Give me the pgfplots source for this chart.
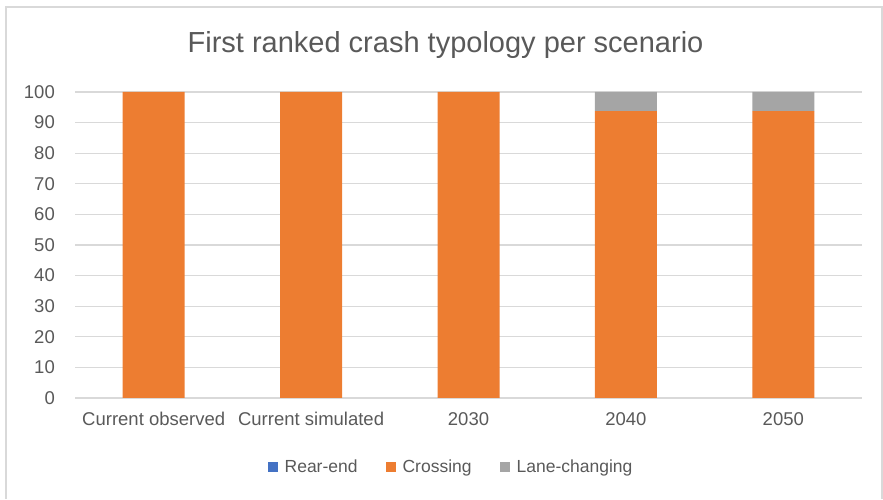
\documentclass[border=0pt]{standalone}
\usepackage{fontspec}
\setmainfont{Liberation Sans}
\usepackage{pgfplots}
\pgfplotsset{compat=1.18}
\definecolor{txt}{HTML}{595959}
\definecolor{gridc}{HTML}{D9D9D9}
\definecolor{framec}{HTML}{D9D9D9}
\definecolor{rear}{HTML}{4472C4}
\definecolor{cross}{HTML}{ED7D31}
\definecolor{lane}{HTML}{A5A5A5}
\begin{document}
\begin{tikzpicture}[x=1bp,y=1bp]
\path (0,0) rectangle (883,499);
\draw[color=framec, line width=1.5bp] (6,0) -- (6,492) -- (882,492) -- (882,0);
\node[text=txt, font=\fontsize{29bp}{32bp}\selectfont, inner sep=0pt] at (445.5,454) {First ranked crash typology per scenario};
\begin{axis}[
  at={(75bp,101bp)}, anchor=south west,
  scale only axis, width=787bp, height=306bp,
  ybar stacked, bar width=62bp,
  xmin=-0.5, xmax=4.5, ymin=0, ymax=100,
  xtick={0,1,2,3,4},
  xticklabels={Current observed, Current simulated, 2030, 2040, 2050},
  ytick={0,10,...,100},
  ymajorgrids, grid style={color=gridc, line width=1.2bp},
  axis line style={draw=none},
  major tick length=0pt,
  /pgf/number format/assume math mode=true,
  tick label style={text=txt, font=\fontsize{18.5bp}{20bp}\selectfont},
  yticklabel style={inner sep=0pt, anchor=east, xshift=-20bp},
  xticklabel style={inner sep=0pt, anchor=north, yshift=-14bp},
  legend columns=3,
  legend style={at={(0.4778,-0.2255)}, anchor=center, draw=none, fill=none,
    text=txt, font=\fontsize{17.5bp}{19bp}\selectfont,
    /tikz/every odd column/.append style={column sep=5bp},
    /tikz/every even column/.append style={column sep=26bp}},
  legend image code/.code={\fill[#1] (0bp,-5bp) rectangle (10bp,5bp);},
]
\addplot[fill=rear, draw=none] coordinates {(0,0) (1,0) (2,0) (3,0) (4,0)};
\addlegendentry{Rear-end}
\addplot[fill=cross, draw=none] coordinates {(0,100) (1,100) (2,100) (3,93.75) (4,93.75)};
\addlegendentry{Crossing}
\addplot[fill=lane, draw=none] coordinates {(0,0) (1,0) (2,0) (3,6.25) (4,6.25)};
\addlegendentry{Lane-changing}
\end{axis}
\end{tikzpicture}
\end{document}
